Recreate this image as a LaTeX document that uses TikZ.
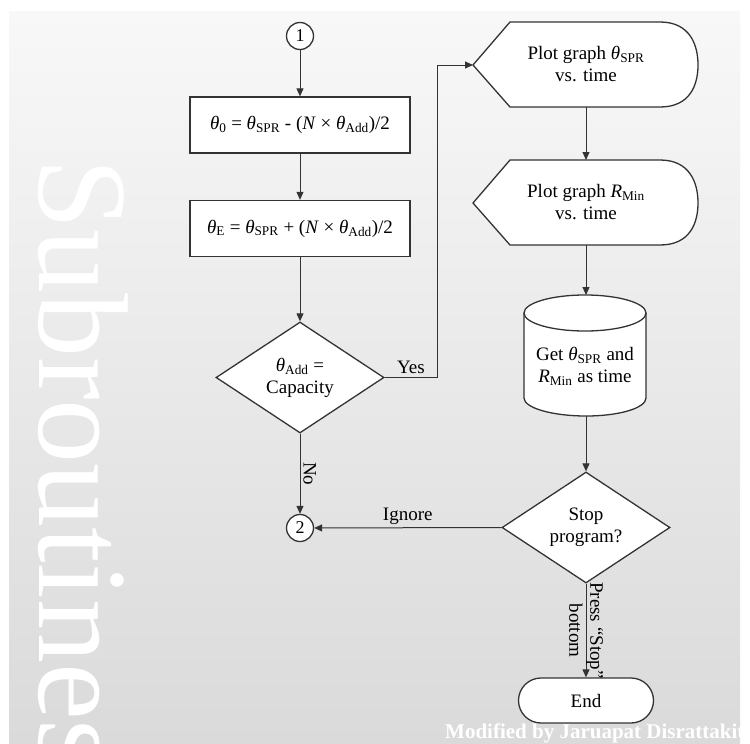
\documentclass[tikz,border=0pt]{standalone}
\usepackage{fontspec}
\setmainfont{Liberation Serif}
\usetikzlibrary{shapes.geometric,arrows.meta}
\definecolor{ln}{HTML}{333333}
\definecolor{bgtop}{HTML}{F8F8F8}
\definecolor{bgbot}{HTML}{DADADA}
\newcommand\sbs[1]{\textsubscript{#1}}
\newcommand\thv{\textit{θ}}
\begin{document}
\begin{tikzpicture}[x=1pt,y=-1pt,
  txt/.style={font=\fontsize{19}{22}\selectfont, align=center, inner sep=0pt},
  shapeline/.style={draw=ln, line width=1.3pt, fill=white},
  procbox/.style={shapeline, txt, minimum width=220pt, minimum height=56pt},
  decision/.style={shapeline, txt, diamond, aspect=1.5, minimum width=168pt, minimum height=111pt},
  connector/.style={circle, shapeline, minimum size=27pt, inner sep=0pt, font=\fontsize{18}{18}\selectfont},
  terminal/.style={shapeline, txt, rounded corners=22.5pt, minimum width=135pt, minimum height=45pt},
  flow/.style={draw=ln, line width=1pt, -{Triangle[length=8pt,width=7pt]}},
  lbl/.style={font=\fontsize{19}{21}\selectfont, inner sep=3pt, align=center}
]
\useasboundingbox (0,0) rectangle (750,744);
\fill[white] (0,0) rectangle (750,744);
\shade[top color=bgtop, bottom color=bgbot] (9,11) rectangle (740,744);
\begin{scope}
\clip (9,11) rectangle (740,744);
\node[rotate=-90, anchor=base west, inner sep=0pt, text=white, font=\fontsize{128}{128}\selectfont] (title) at (39,158) {Subroutines};
\end{scope}

% left column
\node[connector] (c1) at (300,36) {1};
\node[procbox] (b1) at (300,125) {\thv\sbs{0} = \thv\sbs{SPR} - (\textit{N} × \thv\sbs{Add})/2};
\node[procbox] (b2) at (300,228.5) {\thv\sbs{E} = \thv\sbs{SPR} + (\textit{N} × \thv\sbs{Add})/2};
\node[decision] (d1) at (300,377.5) {\thv\sbs{Add} =\\Capacity};
\node[connector] (c2) at (300,528) {2};

% display 1
\draw[shapeline] (473,65) -- (510,22) -- (660,22) .. controls (690,22) and (698,45) .. (698,65) .. controls (698,85) and (690,107) .. (660,107) -- (510,107) -- cycle;
\coordinate (p1w) at (473,65);
\coordinate (p1s) at (586,107);
\node[txt] (p1) at (586,64) {Plot graph \thv\sbs{SPR}\\vs. time};
% display 2
\draw[shapeline] (473,203) -- (510,160) -- (660,160) .. controls (690,160) and (698,183) .. (698,203) .. controls (698,223) and (690,245) .. (660,245) -- (510,245) -- cycle;
\coordinate (p2n) at (586,160);
\coordinate (p2s) at (586,245);
\node[txt] (p2) at (586,202) {Plot graph \textit{R}\sbs{Min}\\vs. time};

% cylinder
\fill[white] (524,313) -- (524,398) .. controls (524,407.9) and (552.3,416) .. (586,416) .. controls (619.7,416) and (646,407.9) .. (646,398) -- (646,313) -- cycle;
\draw[draw=ln, line width=1.3pt] (524,313) -- (524,398) .. controls (524,407.9) and (552.3,416) .. (586,416) .. controls (619.7,416) and (646,407.9) .. (646,398) -- (646,313);
\draw[shapeline] (585,313) ellipse [x radius=61, y radius=18];
\coordinate (cyln) at (586,295);
\coordinate (cyls) at (586,416);
\node[txt] (cyl) at (585,366) {Get \thv\sbs{SPR} and\\\textit{R}\sbs{Min} as time};

\node[decision] (d2) at (586,527.5) {Stop\\program?};
\node[terminal] (end) at (586,700.5) {End};

\node[anchor=base west, inner sep=0pt, text=white, font=\bfseries\fontsize{21}{21}\selectfont] (credit) at (445,738) {Modified by Jaruapat Disrattakit};

% connectors
\coordinate (ycorner) at (437,65);
\draw[flow] (c1) -- (b1);
\draw[flow] (b1) -- (b2);
\draw[flow] (b2) -- (d1);
\draw[flow] (d1.east) -| node[lbl, above, pos=0.25]{Yes} (ycorner) -- (p1w);
\draw[flow] (p1s) -- (p2n);
\draw[flow] (p2s) -- (cyln);
\draw[flow] (cyls) -- (d2.north);
\draw[flow] (d2.west) -- node[lbl, above]{Ignore} (c2);
\draw[flow] (d1.south) -- node[lbl, rotate=-90, anchor=south]{No} (c2.north);
\draw[flow] (d2.south) -- node[lbl, rotate=-90, inner sep=0pt]{Press “Stop”\\bottom} (end.north);
\end{tikzpicture}
\end{document}
